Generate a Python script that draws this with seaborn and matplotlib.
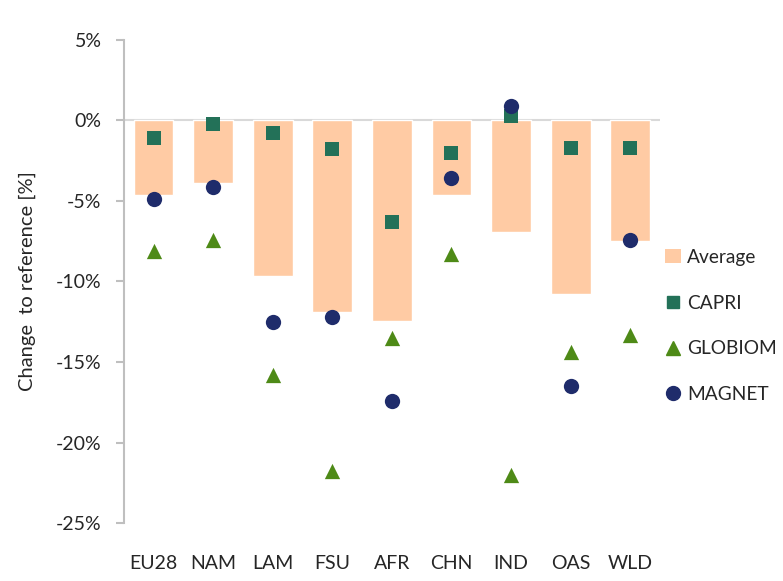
import matplotlib
matplotlib.use("Agg")
import matplotlib.pyplot as plt
import seaborn as sns
import pandas as pd
import numpy as np
from matplotlib.lines import Line2D
from matplotlib.patches import Patch
from matplotlib.ticker import FuncFormatter

regions = ["EU28", "NAM", "LAM", "FSU", "AFR", "CHN", "IND", "OAS", "WLD"]
average = [-4.6, -3.9, -9.65, -11.9, -12.45, -4.6, -6.95, -10.8, -7.5]
capri = [-1.1, -0.2, -0.75, -1.8, -6.3, -2.05, 0.3, -1.7, -1.7]
globiom = [-8.1, -7.4, -15.8, -21.8, -13.5, -8.3, -22.0, -14.4, -13.3]
magnet = [-4.9, -4.15, -12.5, -12.2, -17.4, -3.55, 0.9, -16.5, -7.45]

c_avg = "#FFCBA4"
c_capri = "#237158"
c_glob = "#4E8A17"
c_mag = "#1F2C6B"

sns.set_theme(style="white")
plt.rcParams["font.family"] = ["Lato", "DejaVu Sans"]

fig = plt.figure(figsize=(7.83, 5.81), dpi=100)
ax = fig.add_axes([0.158, 0.0998, 0.685, 0.8314])

df = pd.DataFrame({"region": regions, "Average": average, "CAPRI": capri,
                   "GLOBIOM": globiom, "MAGNET": magnet})

sns.barplot(data=df, x="region", y="Average", color=c_avg, saturation=1,
            width=0.67, ax=ax, zorder=2)
ax.axhline(0, color="#D9D9D9", lw=1.5, zorder=1)
sns.stripplot(data=df, x="region", y="CAPRI", color=c_capri, marker="s",
              size=10, jitter=False, ax=ax, zorder=4, linewidth=0)
sns.stripplot(data=df, x="region", y="GLOBIOM", color=c_glob, marker="^",
              size=11, jitter=False, ax=ax, zorder=4, linewidth=0)
sns.stripplot(data=df, x="region", y="MAGNET", color=c_mag, marker="o",
              size=11, jitter=False, ax=ax, zorder=5, linewidth=0)

ax.set_ylim(-25, 5)
ax.set_xlim(-0.5, 8.5)
ax.set_yticks([5, 0, -5, -10, -15, -20, -25])
ax.yaxis.set_major_formatter(FuncFormatter(lambda v, p: f"{int(round(v))}%"))
ax.set_xlabel("")
ax.set_ylabel("Change  to reference [%]", fontsize=14.5, labelpad=14)

for s in ["top", "right", "bottom"]:
    ax.spines[s].set_visible(False)
ax.spines["left"].set_color("#BFBFBF")
ax.spines["left"].set_linewidth(1.5)
ax.tick_params(axis="y", which="major", left=True, length=6, width=1.5,
               color="#BFBFBF", labelsize=14, pad=10)
ax.tick_params(axis="x", bottom=False, labelsize=14, pad=17)

handles = [
    Patch(facecolor=c_avg, edgecolor="none", label="Average"),
    Line2D([], [], marker="s", color=c_capri, ls="none", markersize=9, label="CAPRI"),
    Line2D([], [], marker="^", color=c_glob, ls="none", markersize=10, label="GLOBIOM"),
    Line2D([], [], marker="o", color=c_mag, ls="none", markersize=10, label="MAGNET"),
]
fig.legend(handles=handles, loc="upper left", bbox_to_anchor=(0.84, 0.585),
           frameon=False, fontsize=13.8, handlelength=0.8, handletextpad=0.35,
           labelspacing=1.5, borderaxespad=0)

fig.savefig("out.png", dpi=100)
